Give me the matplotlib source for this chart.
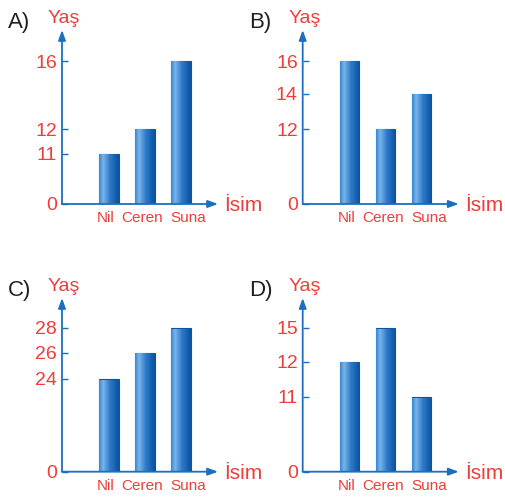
import numpy as np
import matplotlib.pyplot as plt
import matplotlib.transforms as mtransforms
from matplotlib.colors import LinearSegmentedColormap

plt.rcParams['font.family'] = ['Liberation Sans', 'DejaVu Sans']

# ===== data =====
names = ['Nil', 'Ceren', 'Suna']
panel_labels = ['A)', 'B)', 'C)', 'D)']
ages_a = [11, 12, 16]
ages_b = [16, 12, 14]
ages_c = [24, 26, 28]
ages_d = [12, 15, 11]
ticks_a = [0, 11, 12, 16]
ticks_b = [0, 12, 14, 16]
ticks_c = [0, 24, 26, 28]
ticks_d = [0, 11, 12, 15]

# the y axes are not to scale: height of each tick above the baseline, in px
tick_px_a = [0, 50, 75, 143]
tick_px_b = [0, 75, 110, 143]
tick_px_c = [0, 93, 119, 144]
tick_px_d = [0, 75, 110, 144]

RED = '#ee3d3a'
BLUE = '#1b6fbe'
DARK = '#0b55a3'
W, H = 505, 497
label_shift_px = [-3, -3, 7.5]   # category labels sit a little off the bar centres

grad = LinearSegmentedColormap.from_list(
    'bar', [(0, '#3f8bd5'), (0.18, '#78b6eb'), (0.55, '#2e7ac9'), (1, '#0a52a0')])


def piecewise_scale(vals, px, top_px):
    slope = (px[-1] - px[-2]) / (vals[-1] - vals[-2])
    top = vals[-1] + (top_px - px[-1]) / slope
    xp = np.array(list(vals) + [top], float)
    fp = np.array(list(px) + [top_px], float)
    return (lambda v: np.interp(v, xp, fp)), (lambda p: np.interp(p, fp, xp)), top


def panel(left, base, top_y, label, ages, ticks, tick_px):
    right = left + 156
    ax = fig.add_axes([left / W, (H - base) / H, (right - left) / W, (base - top_y) / H])
    fwd, inv, top = piecewise_scale(ticks, tick_px, base - top_y)
    ax.set_yscale('function', functions=(fwd, inv))

    x = np.arange(1, len(names) + 1)
    bars = ax.bar(x, ages, width=0.53, color=DARK, edgecolor=DARK,
                  linewidth=0.8, zorder=2)
    # horizontal gradient fill, clipped to each bar
    g = np.linspace(0, 1, 64).reshape(1, -1)
    trans = mtransforms.blended_transform_factory(ax.transData, ax.transAxes)
    for b in bars:
        x0, w = b.get_x(), b.get_width()
        im = ax.imshow(g, cmap=grad, aspect='auto', zorder=2.5, interpolation='bilinear',
                       extent=[x0, x0 + w, 0, 1], transform=trans)
        im.set_clip_path(b)

    ax.set_xlim(1 - 47 / 36, 1 + 109 / 36)
    ax.set_ylim(0, top)
    for s in ax.spines.values():
        s.set_visible(False)
    ax.set_yticks(ticks)
    ax.set_yticklabels([str(t) for t in ticks])
    ax.tick_params(axis='y', direction='in', length=4.5, width=1, color=BLUE,
                   labelcolor=RED, labelsize=14, pad=3.5)
    ax.set_xticks(x)
    ax.set_xticklabels(names)
    ax.tick_params(axis='x', length=0, labelcolor=RED, labelsize=11, pad=5)
    for t, dx in zip(ax.get_xticklabels(), label_shift_px):
        t.set_transform(t.get_transform() + mtransforms.ScaledTranslation(dx / 100, 0, fig.dpi_scale_trans))

    arrow = dict(arrowstyle='-|>,head_length=0.6,head_width=0.22', color=BLUE,
                 lw=1.3, shrinkA=0, shrinkB=0)
    ax.annotate('', xy=(0, 1), xytext=(0, 0), xycoords='axes fraction',
                arrowprops=arrow, annotation_clip=False)
    ax.annotate('', xy=(1, 0), xytext=(0, 0), xycoords='axes fraction',
                arrowprops=arrow, annotation_clip=False)

    fig.text((left - 54) / W, 1 - (top_y - 2) / H, label, fontsize=16,
             color='#231f20', va='baseline')
    fig.text((left - 14) / W, 1 - (top_y - 7) / H, 'Yaş', fontsize=14,
             color=RED, va='baseline')
    fig.text((right + 6) / W, 1 - (base + 7) / H, 'İsim', fontsize=15,
             color=RED, va='baseline')


fig = plt.figure(figsize=(W / 100, H / 100), dpi=100)
panel(62, 204, 30, panel_labels[0], ages_a, ticks_a, tick_px_a)
panel(302.7, 204, 30, panel_labels[1], ages_b, ticks_b, tick_px_b)
panel(62, 471.7, 298, panel_labels[2], ages_c, ticks_c, tick_px_c)
panel(302.7, 471.7, 298, panel_labels[3], ages_d, ticks_d, tick_px_d)
plt.savefig('out.png', dpi=100)
